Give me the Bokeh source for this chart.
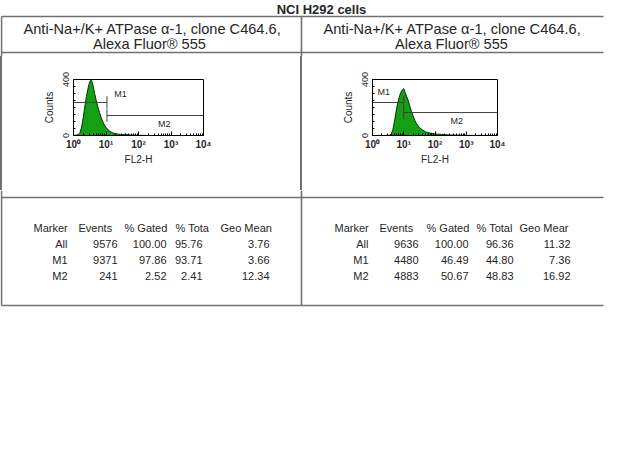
from bokeh.plotting import figure
from bokeh.layouts import column, row
from bokeh.models import Range1d, FixedTicker, Div
from bokeh.embed import file_html
from bokeh.resources import INLINE
from bokeh.core.properties import value

FONT = "Liberation Sans"
TXT = "#262626"
RULE = "#707070"

# ---------------- data ----------------
title_text = "NCI H292 cells"
antibody_line1 = "Anti-Na+/K+ ATPase \u03b1-1, clone C464.6,"
antibody_line2 = "Alexa Fluor\u00ae  555"

# FL2-H channel positions (linear fluorescence values, log-spaced bins)
fl2h = [1.00, 1.12, 1.26, 1.41, 1.58, 1.78, 2.00, 2.24, 2.51, 2.82,
        3.16, 3.55, 3.98, 4.47, 5.01, 5.62, 6.31, 7.08, 7.94, 8.91,
        10.0, 11.2, 12.6, 14.1, 15.8, 17.8, 20.0, 22.4, 25.1, 28.2,
        31.6, 35.5, 39.8, 44.7, 50.1, 56.2, 63.1, 70.8, 79.4, 89.1,
        100, 126, 158, 200, 251, 316, 398, 631, 1000, 3162, 10000]

counts_left = [1, 2, 4, 8, 20, 60, 130, 210, 280, 340,
               385, 398, 360, 300, 250, 205, 165, 128, 100, 76,
               58, 44, 34, 26, 20, 16, 13, 11, 9, 8,
               7, 8, 10, 7, 5, 4, 3, 3, 2, 2,
               1, 1, 1, 0, 0, 0, 0, 0, 0, 0, 0]

counts_right = [0, 0, 0, 0, 0, 0, 0, 0, 0, 1,
                1, 3, 10, 40, 95, 165, 225, 270, 305, 325,
                335, 305, 275, 245, 205, 170, 140, 110, 88, 72,
                58, 48, 40, 33, 27, 23, 20, 17, 15, 13,
                11, 9, 8, 6, 5, 4, 3, 2, 1, 1, 0]

# marker gates: [start, end], level (counts)
m1_left, m1_left_level = [1.0, 10.7], 236
m2_left, m2_left_level = [10.7, 10000.0], 143
m1_right, m1_right_level = [1.0, 10.0], 236
m2_right, m2_right_level = [10.0, 10000.0], 164

marker_labels = ["M1", "M2"]
label_x_left, label_y_left = [18, 400], [300, 79]
label_x_right, label_y_right = [1.45, 316], [309, 103]

decade_ticks = [1, 10, 100, 1000, 10000]
decade_labels = ["10\u2070", "10\u00b9", "10\u00b2", "10\u00b3", "10\u2074"]
count_ticks = [0, 400]

stat_headers_left = ["Marker", "Events", "% Gated", "% Tota", "Geo Mean"]
stat_headers_right = ["Marker", "Events", "% Gated", "% Total", "Geo Mear"]
markers = ["All", "M1", "M2"]
events_left = [9576, 9371, 241]
gated_left = [100.00, 97.86, 2.52]
total_left = [95.76, 93.71, 2.41]
geomean_left = [3.76, 3.66, 12.34]
events_right = [9636, 4480, 4883]
gated_right = [100.00, 46.49, 50.67]
total_right = [96.36, 44.80, 48.83]
geomean_right = [11.32, 7.36, 16.92]


# ---------------- helpers ----------------
def blank(w, h, x0, x1, ytop, ybot):
    p = figure(width=w, height=h, x_range=Range1d(x0, x1), y_range=Range1d(ybot, ytop),
               min_border=0, toolbar_location=None, output_backend="svg",
               x_axis_location=None, y_axis_location=None)
    p.outline_line_color = None
    p.grid.visible = False
    p.background_fill_color = "white"
    p.border_fill_color = "white"
    return p


def txt(p, xs, ys, texts, size, align="left", baseline="middle", style="normal"):
    p.text(x=xs, y=ys, text=texts, text_font=value(FONT), text_font_size=size,
           text_align=align, text_baseline=baseline, text_color=TXT, text_font_style=style)


# ---------------- top: title + header ----------------
top = blank(624, 56, 0, 624, 0, 56)
top.segment(x0=[1, 1, 1, 301], y0=[16, 52, 16, 16], x1=[603, 603, 1, 301], y1=[16, 52, 56, 56],
            line_color=RULE, line_width=1.6)
txt(top, [321], [9], [title_text], "13px", align="center", style="bold")
txt(top, [152, 151, 452, 453], [28.5, 43.5, 28.5, 43.5],
    [antibody_line1, antibody_line2, antibody_line1, antibody_line2], "14.6px",
    align="center")

# ---------------- middle: histograms ----------------
def rule_bar():
    return Div(text="", width=2, height=134, margin=0,
               styles={"background-color": RULE, "box-sizing": "border-box"})


minor_decades = [m * 10 ** d for d in range(4) for m in range(2, 10)]


def hist(width, bl, br, bb, counts, m1, m1lev, m2, m2lev, lx, ly):
    p = figure(width=width, height=134, x_axis_type="log", x_range=Range1d(1, 10000),
               y_range=Range1d(0, 400), min_border_left=bl, min_border_right=br,
               min_border_top=23, min_border_bottom=bb, toolbar_location=None,
               output_backend="svg")
    p.grid.visible = False
    p.outline_line_color = "black"
    p.outline_line_width = 1
    p.varea(x=fl2h, y1=[0] * len(fl2h), y2=counts, fill_color="#13a013")
    p.line(x=fl2h, y=counts, line_color="#0b300b", line_width=1)
    cap = 45
    p.segment(x0=[m1[0], m1[1], m2[0], m2[0]],
              y0=[m1lev, m1lev + cap, m2lev, m2lev + cap],
              x1=[m1[1], m1[1], m2[1], m2[0]],
              y1=[m1lev, m1lev - cap, m2lev, m2lev - cap],
              line_color="#404040", line_width=1)
    p.text(x=lx, y=ly, text=marker_labels, text_font=value(FONT), text_font_size="9px",
           text_baseline="middle", text_align="left", text_color=TXT)

    xa = p.xaxis[0]
    xa.ticker = FixedTicker(ticks=decade_ticks, minor_ticks=minor_decades)
    xa.major_label_overrides = dict(zip(decade_ticks, decade_labels))
    xa.axis_label = "FL2-H"
    ya = p.yaxis[0]
    ya.ticker = FixedTicker(ticks=count_ticks, minor_ticks=list(range(0, 401, 50)))
    ya.major_label_orientation = "vertical"
    ya.axis_label = "Counts"
    for ax in (xa, ya):
        ax.axis_line_color = "black"
        ax.major_tick_line_color = "black"
        ax.minor_tick_line_color = "black"
        ax.major_tick_in = 4
        ax.major_tick_out = 0
        ax.minor_tick_in = 2
        ax.minor_tick_out = 0
        ax.major_label_text_font = FONT
        ax.major_label_text_color = TXT
        ax.axis_label_text_font = FONT
        ax.axis_label_text_font_style = "normal"
        ax.axis_label_text_font_size = "10px"
        ax.axis_label_text_color = TXT
        ax.major_label_standoff = 3
    xa.axis_label_standoff = 1
    ya.axis_label_standoff = 5
    xa.major_label_text_font_size = "10px"
    xa.major_label_text_font_style = "bold"
    ya.major_label_text_font_size = "9px"
    ya.major_label_standoff = 5
    return p


# left cell spans x 2..300, right cell 302..624 (frames at 73-203 and 372-497)
hist_left = hist(298, 71, 97, 55, counts_left, m1_left, m1_left_level,
                 m2_left, m2_left_level, label_x_left, label_y_left)
hist_right = hist(322, 70, 127, 46, counts_right, m1_right, m1_right_level,
                  m2_right, m2_right_level, label_x_right, label_y_right)

# ---------------- bottom: statistics tables ----------------
bottom = blank(624, 130, 0, 624, 190, 320)
bottom.segment(x0=[1, 1, 1, 301], y0=[197, 305, 190, 190], x1=[603, 603, 1, 301],
               y1=[197, 305, 305, 305], line_color=RULE, line_width=1.6)

head_x_left = [33, 78, 124, 175, 220]
head_x_right = [334, 379, 426, 476, 519]
col_end_left = [67, 117, 166, 202, 269]
col_end_right = [368, 418, 468, 513, 570]
row_y = [243, 259, 275]

txt(bottom, head_x_left, [227] * 5, stat_headers_left, "11px")
txt(bottom, head_x_right, [227] * 5, stat_headers_right, "11px")


def table_rows(ends, events, gated, total, geo):
    cols = [markers,
            [str(v) for v in events],
            ["%.2f" % v for v in gated],
            ["%.2f" % v for v in total],
            ["%.2f" % v for v in geo]]
    for xe, vals in zip(ends, cols):
        txt(bottom, [xe] * 3, row_y, vals, "11px", align="right")


table_rows(col_end_left, events_left, gated_left, total_left, geomean_left)
table_rows(col_end_right, events_right, gated_right, total_right, geomean_right)

layout = column(top, row(rule_bar(), hist_left, rule_bar(), hist_right), bottom)
open("out.html", "w").write(file_html(layout, INLINE, title="NCI H292 cells"))
